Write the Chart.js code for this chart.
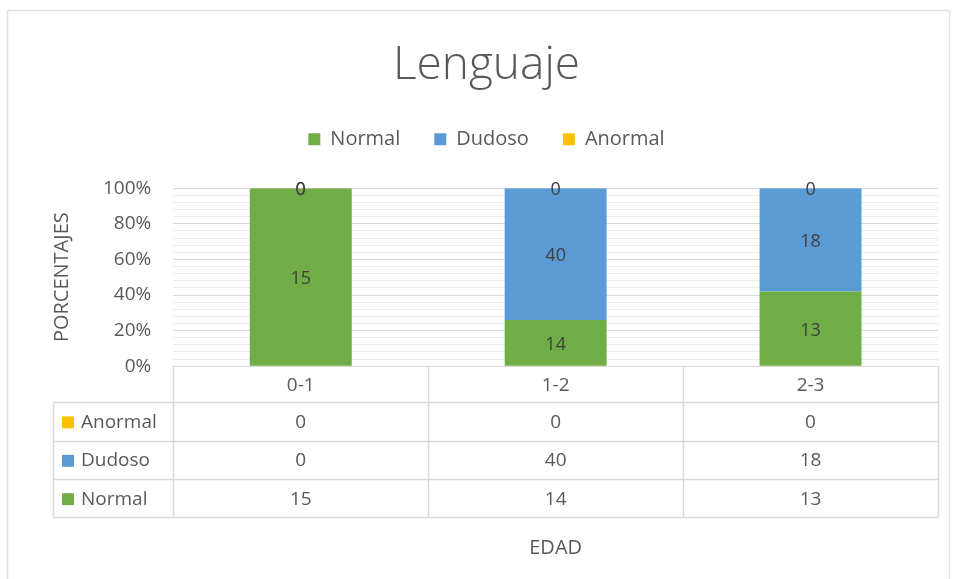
<!DOCTYPE html>
<html>
<head>
<meta charset="utf-8">
<title>Lenguaje</title>
<script src="https://cdn.jsdelivr.net/npm/chart.js@4.4.0/dist/chart.umd.min.js"></script>
<style>
  html, body { margin: 0; padding: 0; background: #fff; }
  #wrap { width: 955px; height: 579px; position: relative; }
</style>
</head>
<body>
<div id="wrap"><canvas id="chart" width="955" height="579"></canvas></div>
<script>
var categories = ['0-1', '1-2', '2-3'];
var normal = [15, 14, 13];
var dudoso = [0, 40, 18];
var anormal = [0, 0, 0];
var yTicks = [0, 20, 40, 60, 80, 100];

var seriesNames = ['Normal', 'Dudoso', 'Anormal'];
var seriesColors = ['#70ad47', '#5b9bd5', '#ffc000'];
var seriesValues = [normal, dudoso, anormal];

var txt = '#595959';
var fontFamily = "'Open Sans', 'DejaVu Sans', sans-serif";

// 100% stacked: turn the raw counts into shares of each column
var totals = categories.map(function (c, i) {
  return normal[i] + dudoso[i] + anormal[i];
});
function share(arr) {
  return arr.map(function (v, i) { return totals[i] ? v / totals[i] * 100 : 0; });
}

var datasets = seriesValues.map(function (vals, k) {
  return {
    label: seriesNames[k],
    data: share(vals),
    raw: vals,
    backgroundColor: seriesColors[k],
    borderWidth: 0,
    categoryPercentage: 1,
    barPercentage: 0.4
  };
});

// light frame round the whole chart
var framePlugin = {
  id: 'frame',
  beforeInit: function (chart) {
    // leave some room between legend and plot
    var fit = chart.legend.fit;
    chart.legend.fit = function () {
      fit.call(this);
      this.height += 29;
    };
  },
  beforeDraw: function (chart) {
    var ctx = chart.ctx;
    ctx.save();
    ctx.strokeStyle = '#e2e2e2';
    ctx.lineWidth = 1.5;
    ctx.strokeRect(7.5, 10.5, 942, 600);
    ctx.restore();
  }
};

// value labels in the middle of each segment
var valuePlugin = {
  id: 'values',
  afterDatasetsDraw: function (chart) {
    var ctx = chart.ctx;
    ctx.save();
    ctx.font = '18px ' + fontFamily;
    ctx.fillStyle = '#404040';
    ctx.textAlign = 'center';
    ctx.textBaseline = 'middle';
    chart.data.datasets.forEach(function (ds, k) {
      var meta = chart.getDatasetMeta(k);
      meta.data.forEach(function (bar, i) {
        var y = (bar.y + bar.base) / 2;
        ctx.fillText(String(ds.raw[i]), bar.x, y + 2);
      });
    });
    ctx.restore();
  }
};

// data table under the plot, columns follow the x scale
var tablePlugin = {
  id: 'dataTable',
  afterDraw: function (chart) {
    var ctx = chart.ctx;
    var xs = chart.scales.x;
    var area = chart.chartArea;
    var half = (xs.right - xs.left) / categories.length / 2;
    var top = area.bottom;
    var headH = 36;
    var rowH = 38.4;
    var leftX = 53;
    var rightX = xs.right;
    var rows = [2, 1, 0]; // Anormal, Dudoso, Normal
    var tableBottom = top + headH + rowH * rows.length;

    ctx.save();
    ctx.strokeStyle = '#d9d9d9';
    ctx.lineWidth = 1.5;
    ctx.beginPath();
    // horizontal lines
    for (var r = 0; r <= rows.length; r++) {
      var y = Math.round(top + headH + rowH * r) + 0.5;
      ctx.moveTo(leftX, y);
      ctx.lineTo(rightX, y);
    }
    // vertical lines
    ctx.moveTo(leftX + 0.5, top + headH);
    ctx.lineTo(leftX + 0.5, tableBottom);
    for (var i = 0; i <= categories.length; i++) {
      var x = Math.round(xs.left + half * 2 * i) + 0.5;
      ctx.moveTo(x, top);
      ctx.lineTo(x, tableBottom);
    }
    ctx.stroke();

    ctx.font = '19px ' + fontFamily;
    ctx.textBaseline = 'middle';
    rows.forEach(function (k, r) {
      var cy = top + headH + rowH * r + rowH / 2 + 1;
      ctx.fillStyle = seriesColors[k];
      ctx.fillRect(leftX + 9, cy - 6, 12, 12);
      ctx.fillStyle = txt;
      ctx.textAlign = 'left';
      ctx.fillText(seriesNames[k], leftX + 28, cy);
      ctx.textAlign = 'center';
      seriesValues[k].forEach(function (v, i) {
        ctx.fillText(String(v), xs.getPixelForValue(i), cy);
      });
    });
    ctx.restore();
  }
};

new Chart(document.getElementById('chart'), {
  type: 'bar',
  data: { labels: categories, datasets: datasets },
  plugins: [framePlugin, valuePlugin, tablePlugin],
  options: {
    responsive: false,
    animation: false,
    layout: { padding: { left: 35, right: 17, top: 10, bottom: 0 } },
    plugins: {
      title: {
        display: true,
        text: 'Lenguaje',
        color: txt,
        font: { family: fontFamily, size: 46, weight: '300' },
        padding: { top: 28, bottom: 2 }
      },
      legend: {
        position: 'top',
        labels: {
          color: txt,
          boxWidth: 12,
          boxHeight: 12,
          padding: 34,
          font: { family: fontFamily, size: 20 },
          generateLabels: function (chart) {
            return chart.data.datasets.map(function (ds, k) {
              return {
                text: ds.label,
                fillStyle: ds.backgroundColor,
                strokeStyle: ds.backgroundColor,
                lineWidth: 0,
                fontColor: txt,
                datasetIndex: k
              };
            });
          }
        }
      },
      tooltip: { enabled: false }
    },
    scales: {
      x: {
        stacked: true,
        grid: { display: false, drawTicks: false },
        border: { display: false },
        ticks: { color: txt, padding: 8, font: { family: fontFamily, size: 19 } },
        title: {
          display: true,
          text: 'EDAD',
          color: txt,
          font: { family: fontFamily, size: 20 },
          padding: { top: 131, bottom: 19 }
        }
      },
      y: {
        stacked: true,
        min: 0,
        max: 100,
        border: { display: false },
        grid: {
          drawTicks: false,
          lineWidth: 1,
          color: function (c) {
            return yTicks.indexOf(c.tick.value) >= 0 ? '#d9d9d9' : '#ebebeb';
          }
        },
        ticks: {
          stepSize: 4,
          autoSkip: false,
          padding: 22,
          color: txt,
          font: { family: fontFamily, size: 19 },
          callback: function (v) {
            return yTicks.indexOf(v) >= 0 ? v + '%' : '';
          }
        },
        title: {
          display: true,
          text: 'PORCENTAJES',
          color: txt,
          font: { family: fontFamily, size: 20 },
          padding: { top: 15, bottom: 7 }
        }
      }
    }
  }
});
</script>
</body>
</html>
